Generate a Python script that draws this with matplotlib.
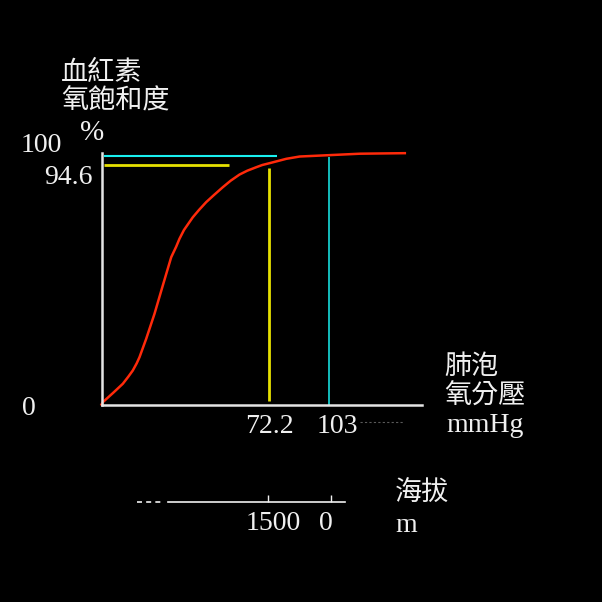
import numpy as np
import matplotlib
matplotlib.use("Agg")
import matplotlib.pyplot as plt

# -------------------------------------------------
# data
# -------------------------------------------------
po2 = [0, 0.56, 5.07, 9.15, 11.52, 13.45, 15.13, 16.33, 19.21, 22.78, 26.35,
       29.96, 32.10, 33.52, 35.45, 39.24, 41.90, 45.0, 48.35, 52.13, 55.52,
       59.31, 62.66, 66.48, 69.11, 72.2, 80.92, 87.86, 103.45, 117.1, 137.5]
sat = [0, 0.91, 4.67, 8.19, 11.0, 13.46, 16.3, 18.72, 26.0, 35.9, 47.1,
       58.3, 62.46, 65.6, 69.07, 74.1, 76.99, 80.1, 82.92, 86.0, 88.58,
       91.0, 92.54, 93.9, 94.88, 95.9, 98.4, 99.7, 100.5, 101.3, 101.6]

x_ticks = [72.2, 103]
x_labels = ["72.2", "103"]
y_ticks = [0, 94.6, 100]
y_labels = ["0", "94.6", "100"]
alt_ticks = [1500, 0]
alt_labels = ["1500", "0"]

# guide lines: (value, from, to, colour)
h_guides = [(100, 1.0, 76.3, "#19f0f0"), (94.6, 1.0, 55.0, "#e6e000")]
v_guides = [(72.2, 1.4, 93.8, "#e6e000"), (103, 0, 99.4, "#19f0f0")]

# -------------------------------------------------
# layout
# -------------------------------------------------
W = H = 602
SERIF = "Liberation Serif"
CJK = "Noto Sans CJK TC"
FG = "#f0f0f0"
FS = 20

# the drawing is not to scale: piecewise axes
x_knots = [-100, 0, 72.2, 103, 300]
x_pix = [-100 * 168 / 72.2, 0, 168, 227.5, 227.5 + 197 * 2.2]
y_knots = [-100, 0, 94.6, 100, 300]
y_pix = [-252.6, 0, 239, 248.5, 248.5 + 200 * 1.759]


def xf(v):
    return np.interp(v, x_knots, x_pix)


def xi(p):
    return np.interp(p, x_pix, x_knots)


def yf(v):
    return np.interp(v, y_knots, y_pix)


def yi(p):
    return np.interp(p, y_pix, y_knots)


fig = plt.figure(figsize=(W / 100, H / 100), dpi=100, facecolor="black")

ax = fig.add_axes([101.5 / W, (H - 404.5) / H, 320.5 / W, 251.5 / H])
ax.set_facecolor("black")
ax.set_xscale("function", functions=(xf, xi))
ax.set_yscale("function", functions=(yf, yi))
ax.set_xlim(0, 145.3)
ax.set_ylim(0, 101.7)
ax.set_xticks([])
ax.set_yticks([])
for s in ["top", "right"]:
    ax.spines[s].set_visible(False)
for s in ["left", "bottom"]:
    ax.spines[s].set_color("#e4e4e4")
    ax.spines[s].set_linewidth(1.8)

for val, a, b, c in h_guides:
    ax.plot([a, b], [val, val], color=c, lw=1.5 if c == "#19f0f0" else 2.0,
            solid_capstyle="butt")
for val, a, b, c in v_guides:
    ax.plot([val, val], [a, b], color=c, lw=1.1 if c == "#19f0f0" else 2.0,
            solid_capstyle="butt")

ax.plot(po2, sat, color="#ff2a0a", lw=1.8, clip_on=False,
        solid_joinstyle="round")

# faint dashes after 103
ax.plot([117.0, 136.5], [-7.0, -7.0], color="#5a5a5a", lw=0.8,
        ls=(0, (2, 2)), clip_on=False)

# tick labels
for v, lab, dx, dy in zip(x_ticks, x_labels, [0, 8], [-28.5, -28.5]):
    ax.annotate(lab, xy=(v, 0), xycoords="data", xytext=(dx, dy),
                textcoords="offset pixels", ha="center", va="baseline",
                color=FG, fontsize=FS, family=SERIF, annotation_clip=False)
for v, lab, dx, dy in zip(y_ticks, y_labels, [-65.5, -8.5, -39.5],
                          [-10.5, -18.5, 3.7]):
    ax.annotate(lab, xy=(0, v), xycoords=("axes fraction", "data"),
                xytext=(dx, dy), textcoords="offset pixels", ha="right",
                va="baseline", color=FG, fontsize=FS, family=SERIF,
                annotation_clip=False)

# -------------------------------------------------
# altitude scale
# -------------------------------------------------
ax2 = fig.add_axes([137 / W, (H - 502) / H, 208 / W, 0.02])
ax2.set_facecolor("none")
ax2.set_xlim(4619, -333)
ax2.set_ylim(0, 1)
for s in ax2.spines.values():
    s.set_visible(False)
ax2.plot([3881, -333], [0, 0], color=FG, lw=1.2, clip_on=False)
ax2.plot([4619, 4000], [0, 0], color=FG, lw=1.2, ls=(0, (3, 2.5)),
         clip_on=False)
ax2.set_yticks([])
ax2.set_xticks(alt_ticks)
ax2.set_xticklabels([])
ax2.tick_params(axis="x", direction="in", length=5, width=1, colors=FG)
for v, lab, dx in zip(alt_ticks, alt_labels, [5, -5]):
    ax2.annotate(lab, xy=(v, 0), xycoords="data", xytext=(dx, -28),
                 textcoords="offset pixels", ha="center", va="baseline",
                 color=FG, fontsize=FS, family=SERIF,
                 annotation_clip=False)

# -------------------------------------------------
# axis titles
# -------------------------------------------------
def put(x, y, s, **kw):
    fig.text(x / W, 1 - y / H, s, color=FG, **kw)


put(61, 72, "血紅素", family=CJK, fontsize=19.5, va="center")
put(61, 101, "氧飽和度", family=CJK, fontsize=19.5, va="center")
put(80, 140, "%", family=SERIF, fontsize=21, va="baseline")
put(444, 366, "肺泡", family=CJK, fontsize=19.5, va="center")
put(444, 396, "氧分壓", family=CJK, fontsize=19.5, va="center")
put(446, 432, "mmHg", family=SERIF, fontsize=FS, va="baseline")
put(395, 493, "海拔", family=CJK, fontsize=19.5, va="center")
put(395, 532, "m", family=SERIF, fontsize=FS, va="baseline")

fig.savefig("out.png", dpi=100, facecolor="black")
